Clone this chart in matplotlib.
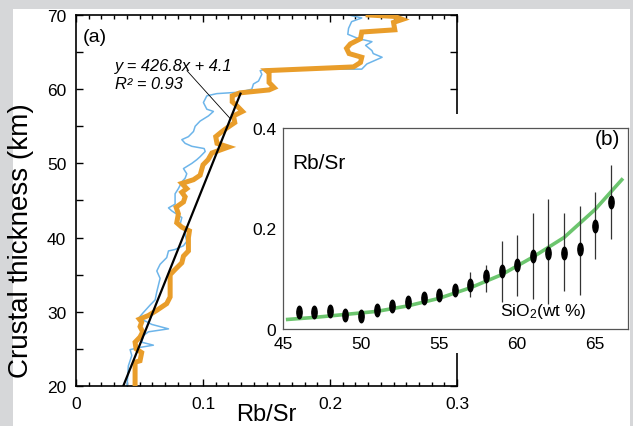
"""Crustal thickness vs Rb/Sr, with Rb/Sr vs SiO2 inset."""

import matplotlib
matplotlib.use("Agg")
import matplotlib.pyplot as plt
from matplotlib.patches import Rectangle
from matplotlib.path import Path
from matplotlib.transforms import Affine2D
from matplotlib.ticker import MultipleLocator

plt.rcParams["font.family"] = ["Liberation Sans", "DejaVu Sans"]
plt.rcParams["mathtext.fontset"] = "custom"
plt.rcParams["mathtext.rm"] = "Liberation Sans"
plt.rcParams["mathtext.default"] = "regular"

# (a) profiles: Rb/Sr along crustal thickness (km)
orange_rbsr = [0.0465, 0.0465, 0.0504, 0.0517, 0.0473, 0.0465, 0.0504, 0.0525, 0.0504,
               0.0517, 0.0499, 0.057, 0.0636, 0.0714, 0.0741, 0.0741, 0.078, 0.0833,
               0.0846, 0.0885, 0.0885, 0.0893, 0.0833, 0.0793, 0.0806, 0.0788, 0.0846,
               0.0859, 0.0833, 0.0872, 0.0833, 0.0925, 0.0977, 0.100, 0.104, 0.107,
               0.120, 0.111, 0.110, 0.115, 0.119, 0.125, 0.124, 0.131, 0.127, 0.123,
               0.123, 0.129, 0.152, 0.156, 0.152, 0.152, 0.150, 0.2185, 0.224, 0.225,
               0.215, 0.213, 0.216, 0.224, 0.225, 0.251, 0.250, 0.257, 0.251, 0.230]
orange_km = [20.0, 23.2, 23.4, 24.5, 25.0, 25.9, 26.6, 27.3, 28.0,
             28.6, 29.0, 29.5, 30.2, 31.1, 32.0, 35.0, 35.7, 36.6,
             37.5, 38.2, 40.0, 40.9, 41.4, 42.0, 43.2, 44.1, 44.8,
             45.5, 46.1, 46.6, 47.3, 47.8, 48.4, 49.8, 50.5, 51.4,
             52.2, 52.7, 53.6, 54.3, 54.8, 55.5, 56.4, 57.0, 57.7, 58.3,
             59.1, 59.5, 59.9, 60.2, 60.9, 62.2, 62.5, 63.0, 63.6, 64.3,
             64.8, 65.5, 66.1, 66.8, 67.7, 68.0, 69.0, 69.4, 69.8, 70.0]

blue_rbsr = [0.0402, 0.0412, 0.0439, 0.0426, 0.0504, 0.0609, 0.0517, 0.0531, 0.057,
             0.0728, 0.0596, 0.0552, 0.0491, 0.0525, 0.0583, 0.0623, 0.0636, 0.0662,
             0.0636, 0.0662, 0.0714, 0.0728, 0.078, 0.0846, 0.0872, 0.0859, 0.0846,
             0.082, 0.0833, 0.0754, 0.0728, 0.078, 0.078, 0.0806, 0.0833, 0.0859,
             0.0872, 0.0846, 0.0912, 0.0951, 0.0977, 0.1017, 0.1009, 0.0912, 0.0859,
             0.0833, 0.0885, 0.0925, 0.0938, 0.0977, 0.1043, 0.1082, 0.103, 0.1003,
             0.103, 0.1108, 0.129, 0.1384, 0.1397, 0.1437, 0.1463, 0.145, 0.150,
             0.225, 0.229, 0.241, 0.234, 0.233, 0.228, 0.233, 0.2225, 0.214, 0.2146,
             0.217, 0.225, 0.2146]
blue_km = [20.0, 22.7, 24.1, 24.9, 25.2, 25.5, 25.9, 26.8, 27.3,
           27.7, 28.3, 28.7, 29.1, 29.8, 30.9, 31.6, 32.7, 34.5,
           35.5, 36.4, 37.3, 38.2, 38.4, 38.9, 39.5, 40.5, 41.4,
           41.8, 42.7, 43.6, 44.0, 44.5, 45.9, 46.6, 47.5, 48.0,
           48.6, 49.3, 50.0, 50.5, 50.9, 51.6, 52.0, 52.3, 52.7,
           53.2, 53.6, 54.3, 55.0, 55.7, 56.4, 57.0, 57.3, 58.2,
           59.1, 59.4, 59.6, 60.0, 60.7, 61.1, 62.0, 62.5, 62.7,
           62.7, 63.4, 64.3, 64.8, 65.2, 65.9, 66.4, 66.8, 67.4, 68.2,
           69.1, 69.6, 70.0]

# regression line y = 426.8x + 4.1, drawn between its visible ends
fit_rbsr = [0.0372, 0.1295]
fit_km = [20.0, 59.4]

x_ticks = [0, 0.1, 0.2, 0.3]
x_tick_labels = ["0", "0.1", "0.2", "0.3"]

# (b) Rb/Sr vs SiO2
sio2 = [46, 47, 48, 49, 50, 51, 52, 53, 54, 55, 56, 57, 58, 59, 60, 61, 62, 63, 64, 65, 66]
rbsr_mean = [0.034, 0.034, 0.035, 0.028, 0.026, 0.038, 0.046, 0.053, 0.061, 0.068, 0.077,
             0.087, 0.106, 0.116, 0.127, 0.146, 0.151, 0.151, 0.159, 0.205, 0.253]
err_low = [0.008, 0.008, 0.008, 0.008, 0.008, 0.008, 0.008, 0.008, 0.008, 0.008, 0.01,
           0.024, 0.032, 0.062, 0.061, 0.086, 0.101, 0.075, 0.091, 0.065, 0.073]
err_high = [0.008, 0.008, 0.008, 0.008, 0.008, 0.008, 0.008, 0.008, 0.008, 0.008, 0.01,
            0.026, 0.021, 0.059, 0.060, 0.084, 0.107, 0.079, 0.085, 0.068, 0.073]
trend_sio2 = [45.3, 47, 49, 51, 53, 55, 57, 59, 61, 63, 65, 66.7]
trend_rbsr = [0.019, 0.023, 0.029, 0.035, 0.046, 0.061, 0.082, 0.108, 0.143, 0.182, 0.238, 0.297]

ORANGE = "#E99D2A"
BLUE = "#6DB5EA"
GREEN = "#6CC56E"

fig = plt.figure(figsize=(6.33, 4.27), dpi=100)
fig.patch.set_facecolor("#D6D7D9")
fig.patches.append(Rectangle((13 / 633, 0), 617 / 633, 417 / 427,
                             transform=fig.transFigure, facecolor="white",
                             edgecolor="none", zorder=-1))

ax = fig.add_axes([0.1201, 0.0937, 0.6019, 0.8689])
ax.plot(blue_rbsr, blue_km, color=BLUE, lw=1.1, zorder=2)
ax.plot(orange_rbsr, orange_km, color=ORANGE, lw=3.6, solid_joinstyle="miter", zorder=3)
ax.plot(fit_rbsr, fit_km, color="black", lw=1.6, zorder=4)

ax.set_xlim(0, 0.3)
ax.set_ylim(20, 70)
ax.set_xticks(x_ticks)
ax.set_xticklabels(x_tick_labels)
ax.xaxis.set_minor_locator(MultipleLocator(0.01))
ax.yaxis.set_major_locator(MultipleLocator(10))
ax.yaxis.set_minor_locator(MultipleLocator(5))
ax.tick_params(which="both", direction="in", top=True, right=True,
               labelsize=12.5, width=1.0, pad=7)
ax.tick_params(which="major", length=5)
ax.tick_params(which="minor", length=3)
ax.tick_params(axis="y", which="minor", length=5)
for s in ax.spines.values():
    s.set_linewidth(1.2)

ax.set_ylabel("Crustal thickness (km)", fontsize=20)
ax.yaxis.set_label_coords(-0.11, 0.394)
ax.set_xlabel("Rb/Sr", fontsize=17, va="baseline")
ax.xaxis.set_label_coords(0.5, -0.091)

ax.text(0.018, 0.943, "(a)", transform=ax.transAxes, fontsize=14, va="center")
ax.text(0.102, 0.8625, "y = 426.8x + 4.1", transform=ax.transAxes, fontsize=11.8,
        style="italic", va="center")
ax.text(0.102, 0.814, "R² = 0.93", transform=ax.transAxes, fontsize=11.8,
        style="italic", va="center")
ax.annotate("", xy=((56.0 - 4.1) / 426.8, 56.0), xytext=(0.291, 0.85),
            textcoords="axes fraction",
            arrowprops=dict(arrowstyle="-", color="black", lw=0.6,
                            shrinkA=0, shrinkB=0))

# white patch behind the inset, hiding part of the main frame
fig.patches.append(Rectangle((250 / 633, 73 / 427), 380 / 633, 239 / 427,
                             transform=fig.transFigure, facecolor="white",
                             edgecolor="none", zorder=1))

ins = fig.add_axes([0.4471, 0.2272, 0.545, 0.4707], zorder=2)
ins.plot(trend_sio2, trend_rbsr, color=GREEN, lw=2.6, zorder=2)
ellipse = Path.unit_circle().transformed(Affine2D().scale(0.42, 1.0))
ins.errorbar(sio2, rbsr_mean, yerr=[err_low, err_high], fmt="none",
             ecolor="#333333", elinewidth=0.9, capsize=0, zorder=3)
ins.plot(sio2, rbsr_mean, linestyle="none", marker=ellipse, markersize=9,
         color="black", zorder=4)
ins.set_xlim(45, 67.1)
ins.set_ylim(0, 0.4)
ins.set_xticks([45, 50, 55, 60, 65])
ins.set_yticks([0, 0.2, 0.4])
ins.set_yticklabels(["0", "0.2", "0.4"])
ins.tick_params(length=0, labelsize=12.5, pad=5)
for s in ins.spines.values():
    s.set_linewidth(0.9)
    s.set_color("#555555")

ins.text(0.026, 0.83, "Rb/Sr", transform=ins.transAxes, fontsize=15, va="center")
ins.text(0.977, 0.95, "(b)", transform=ins.transAxes, fontsize=15,
         va="center", ha="right")
ins.text(0.629, 0.09, "SiO$_2$(wt %)", transform=ins.transAxes, fontsize=12.5,
         va="center")

fig.savefig("out.png", dpi=100, facecolor=fig.get_facecolor())
